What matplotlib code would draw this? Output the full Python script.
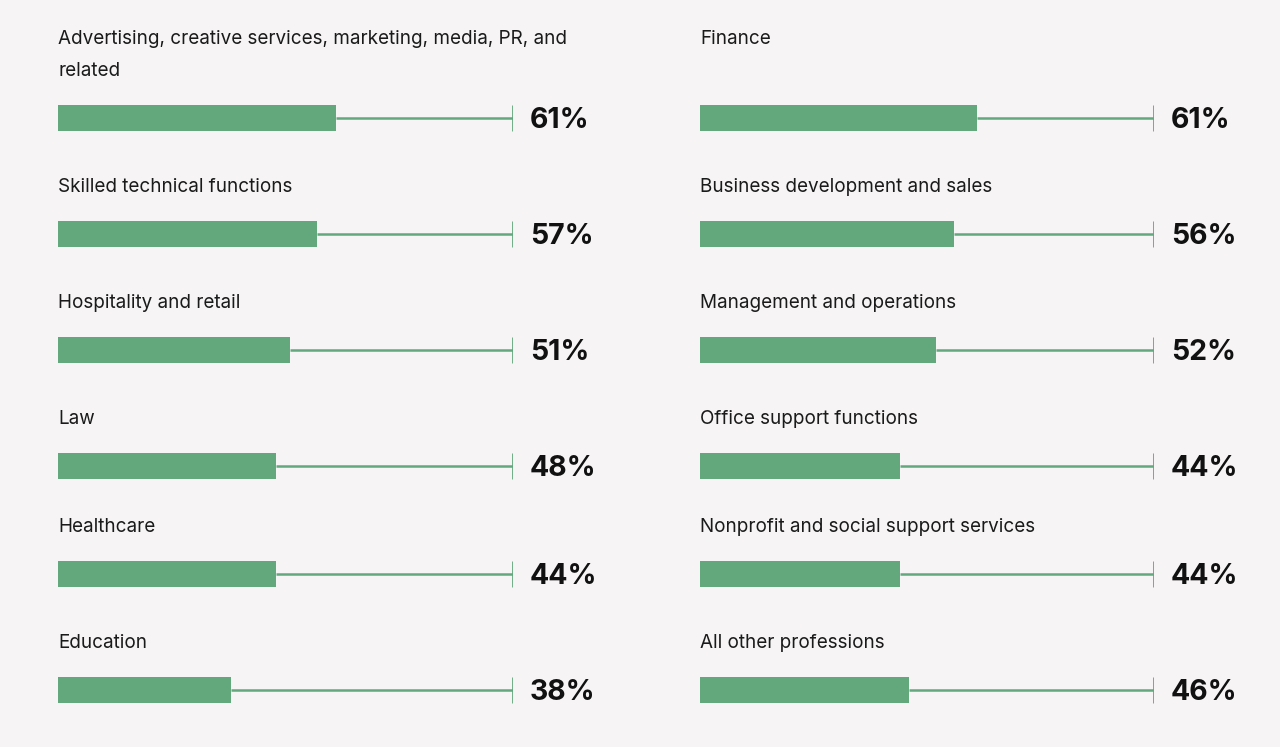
import matplotlib
matplotlib.use("Agg")
import matplotlib.pyplot as plt

# ---- data ----
left_categories = [
    "Advertising, creative services, marketing, media, PR, and\nrelated",
    "Skilled technical functions",
    "Hospitality and retail",
    "Law",
    "Healthcare",
    "Education",
]
left_bar_values = [61, 57, 51, 48, 48, 38]
left_labels = ["61%", "57%", "51%", "48%", "44%", "38%"]

right_categories = [
    "Finance",
    "Business development and sales",
    "Management and operations",
    "Office support functions",
    "Nonprofit and social support services",
    "All other professions",
]
right_bar_values = [61, 56, 52, 44, 44, 46]
right_labels = ["61%", "56%", "52%", "44%", "44%", "46%"]

# ---- style ----
BG = "#f6f4f4"
GREEN = "#63a87c"
W, H = 1280, 747
row_y = [118, 234, 350, 466, 574, 690]

fig = plt.figure(figsize=(W / 100, H / 100), dpi=100, facecolor=BG)
plt.rcParams["font.family"] = ["Inter", "DejaVu Sans"]


def panel(x0, width_px, cats, vals, labels):
    ax = fig.add_axes([x0 / W, 0, width_px / W, 1])
    ax.set_xlim(0, 100)
    ax.set_ylim(H, 0)
    ax.axis("off")
    ax.patch.set_alpha(0)
    ax.barh(row_y, vals, height=26, color=GREEN, left=0)
    ax.hlines(row_y, vals, 100, color=GREEN, lw=1.8)
    ax.vlines([100] * len(row_y), [y - 13 for y in row_y], [y + 13 for y in row_y],
              color=GREEN, lw=2.0)
    pad = 17 / width_px * 100
    for i, (y, c, lab) in enumerate(zip(row_y, cats, labels)):
        lines = c.split("\n")
        first_y = y - 79 if i == 0 else y - 47
        for k, line in enumerate(lines):
            ax.text(0, first_y + 32 * k, line, va="center", ha="left",
                    fontsize=13.6, color="#1a1a1a", clip_on=False)
        ax.text(100 + pad, y + 3, lab, va="center", ha="left", fontsize=20.5,
                fontweight="bold", color="#111111", clip_on=False)
    return ax


panel(58, 455, left_categories, left_bar_values, left_labels)
panel(700, 454, right_categories, right_bar_values, right_labels)

fig.savefig("out.png", dpi=100, facecolor=BG)
